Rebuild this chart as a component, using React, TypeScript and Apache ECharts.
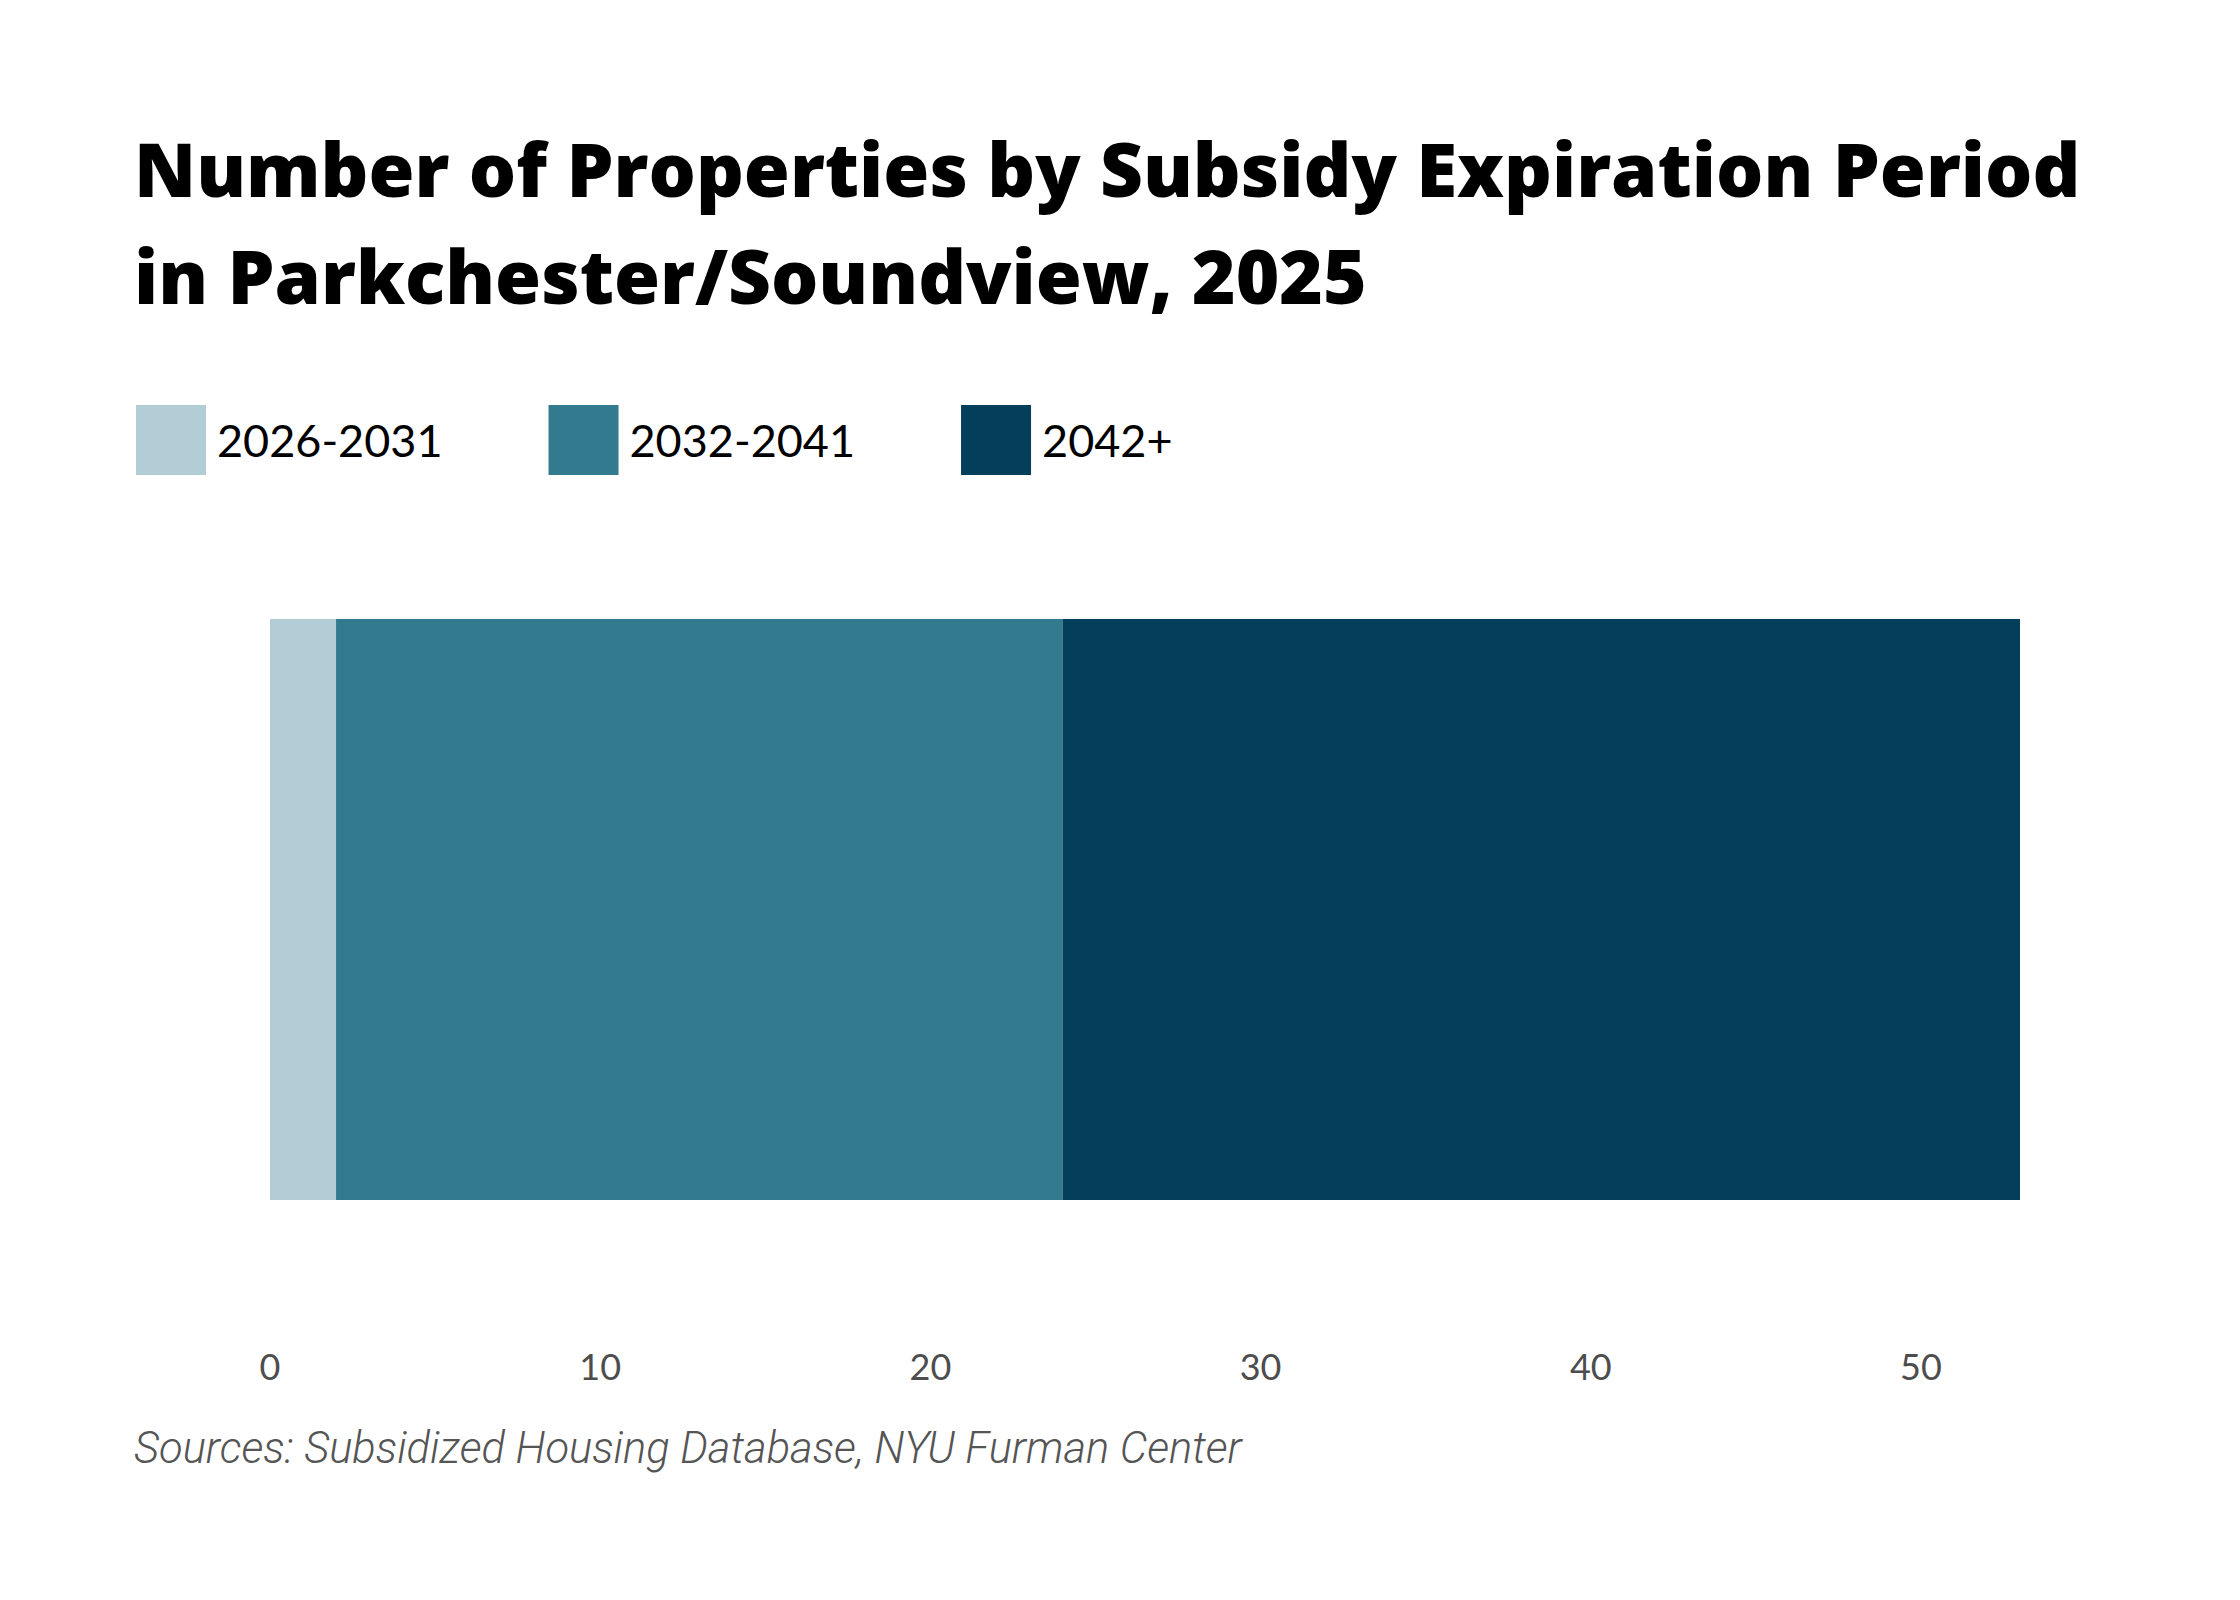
import React, { useEffect, useRef } from "react";
import * as echarts from "echarts";

const categories = ["Parkchester/Soundview"];
const seriesNames = ["2026-2031", "2032-2041", "2042+"];
const values2026 = [2];
const values2032 = [22];
const values2042 = [29];
const xTicks = [0, 10, 20, 30, 40, 50];
const colors = ["#b3cdd6", "#347a8e", "#033f5a"];

const titleText = "Number of Properties by Subsidy Expiration Period\nin Parkchester/Soundview, 2025";
const sourceText = "Sources: Subsidized Housing Database, NYU Furman Center";

export default function App() {
  const ref = useRef<HTMLDivElement>(null);
  useEffect(() => {
    if (!ref.current) return;
    const chart = echarts.init(ref.current, null, { renderer: "svg" });
    const seriesData = [values2026, values2032, values2042];
    const total = values2026[0] + values2032[0] + values2042[0];
    chart.setOption({
      animation: false,
      backgroundColor: "#ffffff",
      title: {
        text: titleText,
        left: 134,
        top: 114,
        padding: 0,
        textStyle: {
          fontFamily: "Open Sans",
          fontWeight: 800,
          fontSize: 74.5,
          lineHeight: 107,
          color: "#000000",
        },
      },
      legend: {
        left: 136,
        top: 405,
        padding: 0,
        itemWidth: 70,
        itemHeight: 70,
        itemGap: 106,
        icon: "rect",
        data: seriesNames,
        textStyle: {
          fontFamily: "Lato",
          fontSize: 45,
          color: "#000000",
          padding: [0, 0, 0, 6],
        },
      },
      grid: {
        left: 270,
        right: 220,
        top: 619,
        height: 581,
        containLabel: false,
      },
      xAxis: {
        type: "value",
        min: 0,
        max: total,
        interval: 10,
        axisLine: { show: false },
        axisTick: { show: false },
        splitLine: { show: false },
        axisLabel: {
          showMaxLabel: false,
          margin: 148,
          fontFamily: "Lato",
          fontSize: 36,
          color: "#4d4d4d",
          formatter: (v: number) => (xTicks.includes(v) ? String(v) : ""),
        },
      },
      yAxis: {
        type: "category",
        data: categories,
        show: false,
      },
      graphic: [
        {
          type: "text",
          left: 134,
          top: 1426,
          style: {
            text: sourceText,
            fontFamily: "Roboto",
            fontStyle: "italic",
            fontWeight: 300,
            fontSize: 43.5,
            fill: "#555555",
          },
        },
      ],
      series: seriesNames.map((name, i) => ({
        name,
        type: "bar",
        stack: "total",
        barWidth: "100%",
        itemStyle: { color: colors[i] },
        data: seriesData[i],
      })),
    });
    return () => chart.dispose();
  }, []);
  return (
    <div
      ref={ref}
      style={{ position: "absolute", left: 0, top: 0, width: 2240, height: 1600 }}
    />
  );
}
